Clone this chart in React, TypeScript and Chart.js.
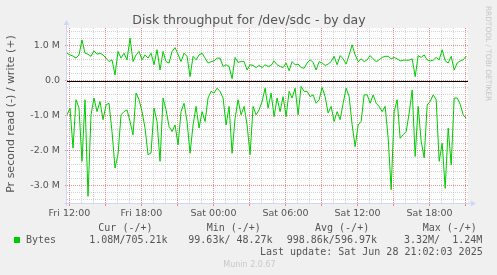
import React, { useEffect, useRef } from 'react';
import { Chart, registerables } from 'chart.js';

Chart.register(...registerables);

// Time axis in hours relative to Fri 12:00, one sample every 15 minutes
const START_HOUR = -0.2;
const STEP_HOURS = 0.25;
const X_MIN = -0.2;
const X_MAX = 33.2;
const Y_MIN = -3.5;
const Y_MAX = 1.5;
const Y_GRID_STEP = 0.2;

// write (+) in MB/s
const writeValues = [
  0.78, 0.73, 0.70, 0.64, 0.73, 1.16, 0.78, 0.75, 0.69, 0.85, 0.75, 0.78, 0.73, 0.64, 0.54, 0.59, 0.16, 0.83, 0.64, 0.78, 0.59, 1.21, 0.54, 0.73, 0.83, 0.59, 0.73,
  0.64, 0.78, 0.45, 0.88, 0.30, 0.83, 0.54, 0.50, 0.83, 0.94, 0.75, 0.54, 0.78, 0.69, 0.11, 0.69, 0.59, 0.73, 0.78, 0.64, 0.50, 0.54, 0.56, 0.64, 0.64, 0.40, 0.45,
  0.40, 0.05, 0.66, 0.52, 0.54, 0.54, 0.30, 0.45, 0.43, 0.37, 0.43, 0.37, 0.45, 0.40, 0.43, 0.56, 0.45, 0.40, 0.37, 0.50, 0.28, 0.54, 0.45, 0.47, 0.37, 0.35, 0.50,
  0.59, 0.52, 0.30, 0.54, 0.50, 0.43, 0.47, 0.54, 0.69, 0.45, 0.71, 0.62, 0.47, 0.73, 1.02, 0.73, 0.54, 0.62, 0.54, 0.59, 0.71, 0.62, 0.54, 0.59, 0.66, 0.69, 0.69,
  0.62, 0.66, 0.62, 0.56, 0.58, 0.58, 0.58, 0.62, 0.11, 0.71, 0.66, 0.73, 0.59, 0.56, 0.58, 0.66, 0.59, 0.88, 0.56, 0.50, 0.69, 0.30, 0.50, 0.56, 0.59, 0.70,
];

// read (-) in MB/s, drawn below zero
const readValues = [
  0.98, 0.79, 1.93, 0.55, 0.79, 2.31, 0.55, 3.31, 0.98, 0.50, 0.89, 0.60, 1.12, 0.70, 0.65, 1.46, 2.50, 2.12, 0.98, 0.89, 0.84, 1.17, 1.55, 0.36, 0.55, 0.89, 1.36,
  2.12, 2.07, 0.79, 1.17, 2.31, 0.50, 0.84, 1.31, 1.46, 1.27, 1.84, 0.89, 0.65, 1.17, 2.08, 1.27, 0.74, 1.36, 0.89, 1.17, 0.50, 0.31, 0.36, 0.22, 0.31, 0.50, 1.27,
  0.74, 2.08, 1.08, 0.55, 0.98, 0.74, 1.27, 2.12, 0.74, 0.98, 0.84, 0.60, 0.22, 0.79, 0.36, 1.03, 0.50, 0.89, 0.46, 1.03, 0.31, 0.50, 0.22, 0.98, 0.17, 0.31, 0.31,
  0.46, 0.41, 0.65, 0.55, 0.20, 0.46, 0.93, 0.74, 1.17, 0.89, 1.12, 0.65, 0.22, 0.46, 1.27, 1.89, 1.27, 1.17, 0.41, 0.41, 0.65, 0.41, 0.65, 0.74, 0.89, 0.74, 1.65,
  3.12, 0.89, 0.55, 1.65, 1.55, 1.46, 0.93, 0.27, 2.17, 0.74, 1.74, 2.21, 0.70, 0.60, 0.41, 0.55, 2.31, 1.79, 3.08, 1.36, 2.41, 0.50, 0.50, 0.68, 0.98, 1.08,
];

const timeLabels = ['Fri 12:00', 'Fri 18:00', 'Sat 00:00', 'Sat 06:00', 'Sat 12:00', 'Sat 18:00'];

const TITLE = 'Disk throughput for /dev/sdc - by day';
const Y_TITLE = 'Pr second read (-) / write (+)';
const SERIES_NAME = 'Bytes';
const legendHeaders = ['Cur (-/+)', 'Min (-/+)', 'Avg (-/+)', 'Max (-/+)'];
const legendValues = ['1.08M/705.21k', '99.63k/ 48.27k', '998.86k/596.97k', '3.32M/  1.24M'];
const LAST_UPDATE = 'Last update: Sat Jun 28 21:02:03 2025';
const FOOTER = 'Munin 2.0.67';
const WATERMARK = 'RRDTOOL / TOBI OETIKER';

const GREEN = '#00CC00';
const MINOR = 'rgba(128,128,128,0.35)';
const MAJOR = 'rgba(224,80,80,0.65)';
const AXIS = '#CFD6F8';
const FONT_COLOR = '#555555';

const isInt = (v: number) => Math.abs(v - Math.round(v)) < 1e-6;

const muninPlugin = {
  id: 'munin',
  beforeDraw(chart: any) {
    const { ctx, chartArea: a } = chart;
    ctx.save();
    ctx.fillStyle = '#F0F0F0';
    ctx.fillRect(0, 0, chart.width, chart.height);
    ctx.fillStyle = '#FFFFFF';
    ctx.fillRect(a.left, a.top, a.right - a.left, a.bottom - a.top);
    ctx.restore();
  },
  beforeDatasetsDraw(chart: any) {
    const { ctx, chartArea: a } = chart;
    const y0 = Math.round(chart.scales.y.getPixelForValue(0)) + 0.5;
    ctx.save();
    ctx.strokeStyle = '#000000';
    ctx.lineWidth = 1;
    ctx.beginPath();
    ctx.moveTo(a.left, y0);
    ctx.lineTo(a.right, y0);
    ctx.stroke();
    ctx.restore();
  },
  afterDraw(chart: any) {
    const { ctx, chartArea: a } = chart;
    ctx.save();
    // axes with arrows
    ctx.strokeStyle = AXIS;
    ctx.fillStyle = AXIS;
    ctx.lineWidth = 1;
    const ax = a.left - 0.5;
    const ay = a.bottom + 0.5;
    ctx.beginPath();
    ctx.moveTo(a.left - 3, ay);
    ctx.lineTo(a.right + 4, ay);
    ctx.moveTo(ax, a.bottom + 3);
    ctx.lineTo(ax, a.top - 4);
    ctx.stroke();
    ctx.beginPath();
    ctx.moveTo(a.right + 8, ay);
    ctx.lineTo(a.right + 3, ay - 3);
    ctx.lineTo(a.right + 3, ay + 3);
    ctx.closePath();
    ctx.fill();
    ctx.beginPath();
    ctx.moveTo(ax, a.top - 8);
    ctx.lineTo(ax - 3, a.top - 3);
    ctx.lineTo(ax + 3, a.top - 3);
    ctx.closePath();
    ctx.fill();

    // title
    ctx.fillStyle = FONT_COLOR;
    ctx.font = '12.5px "DejaVu Sans"';
    ctx.textAlign = 'center';
    ctx.textBaseline = 'alphabetic';
    ctx.fillText(TITLE, 249, 24);

    // y title
    ctx.save();
    ctx.translate(11.5, 114);
    ctx.rotate(-Math.PI / 2);
    ctx.font = '11px "DejaVu Sans"';
    ctx.textBaseline = 'middle';
    ctx.fillText(Y_TITLE, 0, 0);
    ctx.restore();

    // watermark
    ctx.save();
    ctx.translate(487.5, 53.5);
    ctx.rotate(Math.PI / 2);
    ctx.font = '7.4px "DejaVu Sans"';
    ctx.fillStyle = '#C4C4C4';
    ctx.textAlign = 'center';
    ctx.textBaseline = 'middle';
    ctx.fillText(WATERMARK, 0, 0);
    ctx.restore();

    // legend
    ctx.font = '10px "DejaVu Sans Mono"';
    ctx.textAlign = 'left';
    ctx.textBaseline = 'alphabetic';
    ctx.fillStyle = FONT_COLOR;
    const headerX = [98.3, 206.7, 315, 422.7];
    legendHeaders.forEach((t, i) => ctx.fillText(t, headerX[i], 230.5));
    const valueX = [89.3, 188.3, 286.7, 404];
    ctx.fillText(SERIES_NAME, 26, 242.5);
    legendValues.forEach((t, i) => ctx.fillText(t, valueX[i], 242.5));
    ctx.textAlign = 'right';
    ctx.fillText(LAST_UPDATE, 482.7, 254.5);
    ctx.fillStyle = GREEN;
    ctx.fillRect(14, 237, 6, 6);

    ctx.font = '8px "DejaVu Sans"';
    ctx.fillStyle = '#C8C8C8';
    ctx.textAlign = 'left';
    ctx.fillText(FOOTER, 223.3, 266.5);
    ctx.restore();
  },
};

export default function App() {
  const ref = useRef<HTMLCanvasElement>(null);

  useEffect(() => {
    const canvas = ref.current;
    if (!canvas) return;
    const toPoints = (vals: number[], sign: number) =>
      vals.map((v, i) => ({ x: START_HOUR + i * STEP_HOURS, y: sign * v }));

    const chart = new Chart(canvas, {
      type: 'line',
      data: {
        datasets: [
          {
            label: 'write',
            data: toPoints(writeValues, 1),
            borderColor: GREEN,
            borderWidth: 1,
            pointRadius: 0,
            tension: 0,
            fill: false,
          },
          {
            label: 'read',
            data: toPoints(readValues, -1),
            borderColor: GREEN,
            borderWidth: 1,
            pointRadius: 0,
            tension: 0,
            fill: false,
          },
        ],
      },
      options: {
        responsive: false,
        animation: false,
        devicePixelRatio: 1,
        layout: { padding: { top: 28, right: 29, left: 0, bottom: 0 } },
        plugins: {
          legend: { display: false },
          tooltip: { enabled: false },
          title: { display: false },
        },
        scales: {
          x: {
            type: 'linear',
            min: X_MIN,
            max: X_MAX,
            afterFit: (s: any) => {
              s.height = 72;
            },
            border: { display: false, dash: [1, 1] },
            grid: {
              color: (c: any) => (c.tick && isInt(c.tick.value / 3) ? MAJOR : MINOR),
              lineWidth: 1,
              drawTicks: true,
              tickLength: 3,
              tickBorderDash: [],
              tickColor: (c: any) => (c.tick && isInt(c.tick.value / 3) ? MAJOR : 'rgba(0,0,0,0)'),
            },
            ticks: {
              stepSize: 1,
              includeBounds: false,
              autoSkip: false,
              maxRotation: 0,
              padding: 2,
              color: FONT_COLOR,
              font: { family: 'DejaVu Sans', size: 9.5 },
              callback: (v: any) => {
                const n = Number(v);
                if (n >= 0 && isInt(n / 6)) return timeLabels[Math.round(n / 6)] ?? '';
                return '';
              },
            },
          },
          y: {
            type: 'linear',
            min: Y_MIN,
            max: Y_MAX,
            afterFit: (s: any) => {
              s.width = 67;
            },
            afterBuildTicks: (s: any) => {
              const ticks: { value: number }[] = [];
              const first = Math.ceil((Y_MIN + 1e-9) / Y_GRID_STEP);
              const last = Math.floor((Y_MAX - 1e-9) / Y_GRID_STEP);
              for (let k = first; k <= last; k++) ticks.push({ value: Math.round(k * Y_GRID_STEP * 10) / 10 });
              s.ticks = ticks;
            },
            border: { display: false, dash: [1, 1] },
            grid: {
              color: (c: any) => (c.tick && isInt(c.tick.value) ? MAJOR : MINOR),
              lineWidth: 1,
              drawTicks: true,
              tickLength: 2,
              tickBorderDash: [],
              tickColor: (c: any) => (c.tick && isInt(c.tick.value) ? MAJOR : 'rgba(0,0,0,0)'),
            },
            ticks: {
              autoSkip: false,
              padding: 5,
              color: FONT_COLOR,
              font: { family: 'DejaVu Sans', size: 9.5 },
              callback: (v: any) => {
                const r = Math.round(Number(v) * 10);
                if (r % 10 !== 0) return '';
                if (r === 0) return '0.0';
                return (r / 10).toFixed(1) + ' M';
              },
            },
          },
        },
      },
      plugins: [muninPlugin],
    });
    return () => chart.destroy();
  }, []);

  return (
    <div style={{ position: 'fixed', left: 0, top: 0, width: 497, height: 275, background: '#F0F0F0' }}>
      <canvas ref={ref} width={497} height={275} style={{ display: 'block', width: 497, height: 275 }} />
    </div>
  );
}
